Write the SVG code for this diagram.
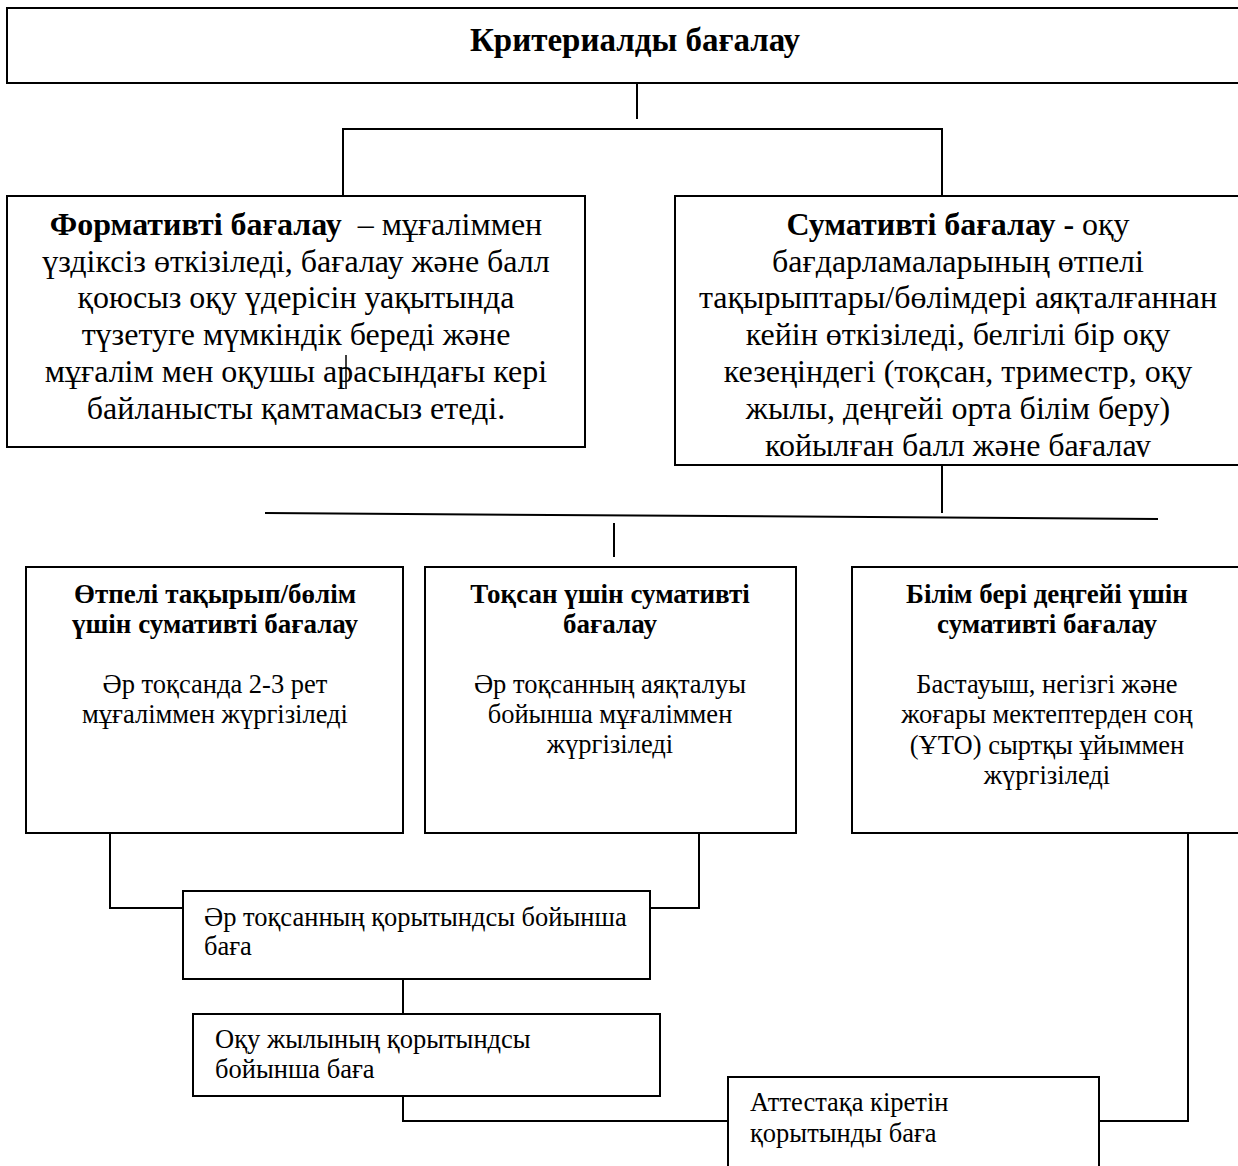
<svg xmlns="http://www.w3.org/2000/svg" width="1238" height="1166" viewBox="0 0 1238 1166">
<style>
  rect.box { fill: #ffffff; stroke: #000000; stroke-width: 2; }
  .conn line, .conn polyline { fill: none; stroke: #000000; stroke-width: 2; }
  text { font-family: "Liberation Serif", "Times New Roman", "DejaVu Serif", serif; fill: #000000; }
  .title { font-size: 33px; font-weight: bold; text-anchor: middle; }
  .big { font-size: 32px; text-anchor: middle; }
  .b { font-weight: bold; }
  .hd { font-size: 27px; font-weight: bold; text-anchor: middle; }
  .bd { font-size: 26.5px; text-anchor: middle; }
  .lt { font-size: 26.5px; }
</style>
<defs>
  <clipPath id="clipR"><rect x="675" y="196" width="570" height="261"/></clipPath>
</defs>
<rect width="1238" height="1166" fill="#ffffff"/>

<g class="conn" id="connectors">
  <line x1="637" y1="83" x2="637" y2="119"/>
  <polyline points="343,196 343,129 942,129 942,196"/>
  <line x1="942" y1="465" x2="942" y2="513"/>
  <line x1="265" y1="513" x2="1158" y2="519"/>
  <line x1="614" y1="523" x2="614" y2="557"/>
  <polyline points="110,833 110,908 183,908"/>
  <polyline points="699,833 699,908 650,908"/>
  <line x1="403" y1="979" x2="403" y2="1014"/>
  <polyline points="403,1096 403,1121 728,1121"/>
  <polyline points="1188,833 1188,1121 1099,1121"/>
</g>

<g id="node-root">
  <rect class="box" x="7" y="8" width="1240" height="75"/>
  <text class="title" x="635" y="51">Критериалды бағалау</text>
</g>

<g id="node-formative">
  <rect class="box" x="7" y="196" width="578" height="251"/>
  <text class="big" x="296" y="235"><tspan class="b">Формативті бағалау</tspan>&#160; – мұғаліммен</text>
  <text class="big" x="296" y="272">үздіксіз өткізіледі, бағалау және балл</text>
  <text class="big" x="296" y="308">қоюсыз оқу үдерісін уақытында</text>
  <text class="big" x="296" y="345">түзетуге мүмкіндік береді және</text>
  <text class="big" x="296" y="382">мұғалім мен оқушы арасындағы кері</text>
  <text class="big" x="296" y="419">байланысты қамтамасыз етеді.</text>
  <line x1="346" y1="355" x2="346" y2="389" stroke="#000" stroke-width="1.5"/>
</g>

<g id="node-summative">
  <rect class="box" x="675" y="196" width="570" height="269"/>
  <g clip-path="url(#clipR)">
    <text class="big" x="958" y="235"><tspan class="b">Сумативті бағалау -</tspan> оқу</text>
    <text class="big" x="958" y="272">бағдарламаларының өтпелі</text>
    <text class="big" x="958" y="308">тақырыптары/бөлімдері аяқталғаннан</text>
    <text class="big" x="958" y="345">кейін өткізіледі, белгілі бір оқу</text>
    <text class="big" x="958" y="382">кезеңіндегі (тоқсан, триместр, оқу</text>
    <text class="big" x="958" y="419">жылы, деңгейі орта білім беру)</text>
    <text class="big" x="958" y="456">койылған балл және бағалау</text>
  </g>
</g>

<g id="node-topic">
  <rect class="box" x="26" y="567" width="377" height="266"/>
  <text class="hd" x="215" y="603">Өтпелі тақырып/бөлім</text>
  <text class="hd" x="215" y="633">үшін сумативті бағалау</text>
  <text class="bd" x="215" y="693">Әр тоқсанда 2-3 рет</text>
  <text class="bd" x="215" y="723">мұғаліммен жүргізіледі</text>
</g>

<g id="node-quarter">
  <rect class="box" x="425" y="567" width="371" height="266"/>
  <text class="hd" x="610" y="603">Тоқсан үшін сумативті</text>
  <text class="hd" x="610" y="633">бағалау</text>
  <text class="bd" x="610" y="693">Әр тоқсанның аяқталуы</text>
  <text class="bd" x="610" y="723">бойынша мұғаліммен</text>
  <text class="bd" x="610" y="753">жүргізіледі</text>
</g>

<g id="node-level">
  <rect class="box" x="852" y="567" width="392" height="266"/>
  <text class="hd" x="1047" y="603">Білім бері деңгейі үшін</text>
  <text class="hd" x="1047" y="633">сумативті бағалау</text>
  <text class="bd" x="1047" y="693">Бастауыш, негізгі және</text>
  <text class="bd" x="1047" y="723">жоғары мектептерден соң</text>
  <text class="bd" x="1047" y="754">(ҰТО) сыртқы ұйыммен</text>
  <text class="bd" x="1047" y="784">жүргізіледі</text>
</g>

<g id="node-quarter-grade">
  <rect class="box" x="183" y="891" width="467" height="88"/>
  <text class="lt" x="204" y="926">Әр тоқсанның қорытындсы бойынша</text>
  <text class="lt" x="204" y="955">баға</text>
</g>

<g id="node-year-grade">
  <rect class="box" x="193" y="1014" width="467" height="82"/>
  <text class="lt" x="215" y="1048">Оқу жылының қорытындсы</text>
  <text class="lt" x="215" y="1078">бойынша баға</text>
</g>

<g id="node-final-grade">
  <rect class="box" x="728" y="1077" width="371" height="100"/>
  <text class="lt" x="750" y="1111">Аттестақа кіретін</text>
  <text class="lt" x="750" y="1142">қорытынды баға</text>
</g>
</svg>
